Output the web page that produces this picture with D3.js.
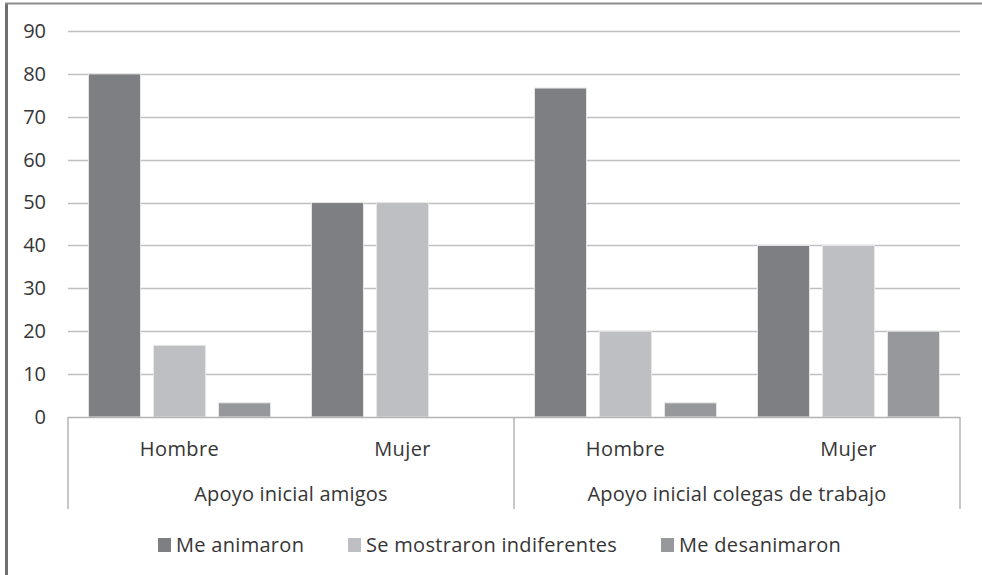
<!DOCTYPE html>
<html>
<head>
<meta charset="utf-8">
<script src="https://cdn.jsdelivr.net/npm/d3@7"></script>
<style>
  body { margin: 0; background: #fff; }
  text { font-family: "Open Sans", sans-serif; fill: #363636; }
</style>
</head>
<body>
<script>
const groups = ["Apoyo inicial amigos", "Apoyo inicial colegas de trabajo"]
const categories = ["Hombre", "Mujer", "Hombre", "Mujer"]
const seriesNames = ["Me animaron", "Se mostraron indiferentes", "Me desanimaron"]
const animaron = [80, 50, 76.7, 40]
const indiferentes = [16.7, 50, 20, 40]
const desanimaron = [3.3, 0, 3.3, 20]
const yTicks = [0, 10, 20, 30, 40, 50, 60, 70, 80, 90]
const colors = ["#7e7f83", "#bebfc3", "#97989c"]

const width = 982
const height = 575
const plotLeft = 68, plotRight = 960, plotTop = 31, plotBottom = 417

const svg = d3.select("body").append("svg")
    .attr("width", width)
    .attr("height", height)

// frame (only left and top edges show in the original)
svg.append("line").attr("x1", 6.5).attr("x2", 6.5).attr("y1", 3).attr("y2", height)
  .style("stroke", "#6f6f6f").style("stroke-width", 3)
svg.append("line").attr("x1", 5).attr("x2", width).attr("y1", 3.5).attr("y2", 3.5)
  .style("stroke", "#8c8c8c").style("stroke-width", 2)

const y = d3.scaleLinear().domain([0, 90]).range([plotBottom, plotTop])
const x0 = d3.scaleBand().domain(d3.range(categories.length)).range([plotLeft, plotRight])
const x1 = d3.scaleBand().domain(d3.range(seriesNames.length))
    .range([0, x0.bandwidth()]).paddingInner(0.2).paddingOuter(0.315)

// gridlines
svg.append("g").selectAll("line")
  .data(yTicks.filter(d => d > 0))
  .enter().append("line")
    .attr("x1", plotLeft).attr("x2", plotRight)
    .attr("y1", d => Math.round(y(d)) + 0.5).attr("y2", d => Math.round(y(d)) + 0.5)
    .style("stroke", "#c0c0c0").style("stroke-width", 1.5)

// y axis labels
const yAxis = d3.axisLeft(y).tickValues(yTicks).tickSize(0).tickPadding(22)
svg.append("g")
  .attr("transform", `translate(${plotLeft},0)`)
  .call(yAxis)
  .call(g => g.select(".domain").remove())
  .selectAll("text")
    .style("font-size", "20px")
    .style("font-family", "'Open Sans', sans-serif")
    .style("fill", "#363636")

// bars
const rows = categories.map((c, i) => ({
  i: i,
  values: [animaron[i], indiferentes[i], desanimaron[i]]
}))

const cat = svg.append("g").selectAll("g")
  .data(rows)
  .enter().append("g")
    .attr("transform", d => `translate(${x0(d.i)},0)`)

cat.selectAll("rect")
  .data(d => d.values.map((v, s) => ({ v: v, s: s })))
  .enter().append("rect")
    .attr("x", d => x1(d.s))
    .attr("width", x1.bandwidth())
    .attr("y", d => y(d.v))
    .attr("height", d => plotBottom - y(d.v))
    .style("fill", d => colors[d.s])
    .style("stroke", d => d.v > 0 ? "#e6e6e8" : "none")
    .style("stroke-width", 1)

// category axis: baseline and group dividers
const axisColor = "#b4b4b4"
svg.append("line")
  .attr("x1", plotLeft).attr("x2", plotRight).attr("y1", plotBottom + 0.5).attr("y2", plotBottom + 0.5)
  .style("stroke", axisColor).style("stroke-width", 1.5)
const dividers = [0, 2, 4].map(i => i < categories.length ? x0(i) : plotRight)
svg.append("g").selectAll("line")
  .data(dividers)
  .enter().append("line")
    .attr("x1", d => d).attr("x2", d => d)
    .attr("y1", plotBottom).attr("y2", 509)
    .style("stroke", axisColor).style("stroke-width", 1.5)

svg.append("g").selectAll("text")
  .data(categories)
  .enter().append("text")
    .attr("x", (d, i) => x0(i) + x0.bandwidth() / 2)
    .attr("y", 456)
    .attr("text-anchor", "middle")
    .style("font-size", "20px")
    .style("letter-spacing", "0.4px")
    .text(d => d)

svg.append("g").selectAll("text")
  .data(groups)
  .enter().append("text")
    .attr("x", (d, i) => x0(i * 2) + x0.bandwidth())
    .attr("y", 501)
    .attr("text-anchor", "middle")
    .style("font-size", "20px")
    .style("letter-spacing", "0.2px")
    .text(d => d)

// legend
const legendX = [158, 348, 661]
const legend = svg.append("g").selectAll("g")
  .data(seriesNames)
  .enter().append("g")
    .attr("transform", (d, i) => `translate(${legendX[i]},538)`)
legend.append("rect")
  .attr("width", 13).attr("height", 14)
  .style("fill", (d, i) => colors[i])
legend.append("text")
  .attr("x", 18).attr("y", 14)
  .style("font-size", "20px")
  .style("letter-spacing", "0.3px")
  .text(d => d)
</script>
</body>
</html>
